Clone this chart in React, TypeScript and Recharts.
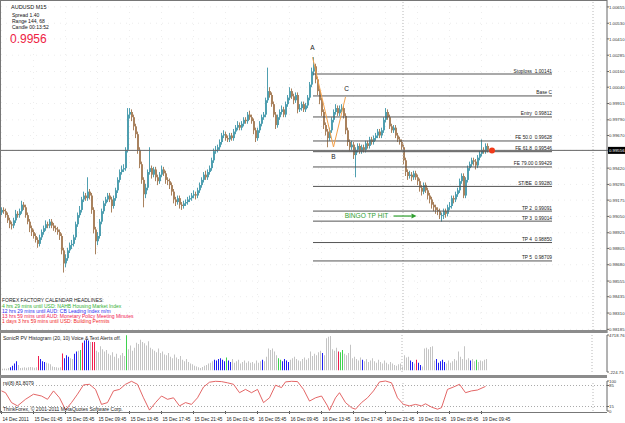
import React from "react";
import {
  ComposedChart,
  LineChart,
  Bar,
  Line,
  XAxis,
  YAxis,
  ReferenceLine,
  ReferenceDot,
  CartesianGrid,
  Cell,
} from "recharts";

// ---- data ----
const timeLabels = [
  "14 Dec 2011", "15 Dec 01:45", "15 Dec 05:45", "15 Dec 09:45", "15 Dec 13:45",
  "15 Dec 17:45", "15 Dec 21:45", "16 Dec 01:45", "16 Dec 05:45", "16 Dec 09:45",
  "16 Dec 13:45", "16 Dec 17:45", "16 Dec 21:45", "19 Dec 01:45", "19 Dec 05:45",
  "19 Dec 09:45",
];
const timeTickBars = [0, 16, 32, 48, 64, 80, 96, 112, 128, 144, 160, 176, 192, 208, 224, 240];

const priceTicks = [
  1.00655, 1.0053, 1.0041, 1.00285, 1.0016, 1.0004, 0.99915, 0.9979, 0.9967,
  0.9942, 0.99295, 0.99175, 0.9905, 0.98925, 0.98805, 0.9868, 0.98555, 0.98435,
  0.9831, 0.98185,
];
const bid = 0.99556;

const firstOpen = 0.9908;
const closes = [
  .9910, .9909, .9906, .9902, .9899, .9898, .9902, .9907, .9906, .9909,
  .9914, .9912, .9906, .9901, .9896, .9893, .9890, .9887, .9884, .9889,
  .9893, .9896, .9899, .9898, .9901, .9898, .9896, .9895, .9893, .9890,
  .9879, .9869, .9873, .9879, .9883, .9884, .9889, .9899, .9906, .9910,
  .9918, .9921, .9919, .9924, .9921, .9910, .9895, .9886, .9890, .9901,
  .9909, .9915, .9918, .9921, .9918, .9913, .9919, .9925, .9933, .9939,
  .9941, .9942, .9956, .9983, .9985, .9981, .9974, .9968, .9956, .9945,
  .9933, .9922, .9927, .9939, .9942, .9937, .9941, .9935, .9932, .9937,
  .9941, .9938, .9933, .9932, .9929, .9924, .9918, .9916, .9919, .9914,
  .9913, .9915, .9916, .9918, .9919, .9921, .9922, .9921, .9925, .9929,
  .9933, .9937, .9935, .9939, .9942, .9948, .9955, .9956, .9958, .9962,
  .9967, .9968, .9965, .9964, .9967, .9965, .9970, .9973, .9975, .9973,
  .9976, .9979, .9978, .9983, .9981, .9978, .9971, .9965, .9971, .9976,
  .9981, .9983, .9994, 1.0001, .9998, .9991, .9983, .9975, .9981, .9985,
  .9987, .9983, .9991, .9996, 1.0001, .9997, .9994, .9998, .9987, .9988,
  .9991, .9987, .9990, .9996, 1.0006, 1.0016, 1.0020, 1.0010, 1.0001, .9994,
  .9985, .9975, .9970, .9965, .9971, .9979, .9985, .9988, .9984, .9987,
  .9988, .9982, .9971, .9962, .9958, .9960, .9952, .9956, .9959, .9955,
  .9958, .9956, .9961, .9959, .9964, .9962, .9965, .9967, .9970, .9967,
  .9971, .9979, .9985, .9981, .9974, .9971, .9973, .9967, .9964, .9962,
  .9958, .9948, .9939, .9936, .9937, .9935, .9938, .9935, .9932, .9927,
  .9924, .9929, .9925, .9921, .9918, .9914, .9912, .9910, .9909, .9906,
  .9906, .9909, .9907, .9912, .9913, .9919, .9918, .9922, .9925, .9932,
  .9936, .9921, .9933, .9942, .9945, .9948, .9947, .9944, .9950, .9953,
  .9956, .9955, .9959, .9956,
];
const highs = [
  .9912, .9912, .9911, .9908, .9904, .9901, .9904, .9910, .9909, .9911,
  .9917, .9916, .9914, .9908, .9903, .9898, .9895, .9892, .9889, .9891,
  .9895, .9898, .9902, .9901, .9903, .9903, .9900, .9898, .9897, .9895,
  .9892, .9881, .9876, .9881, .9885, .9887, .9891, .9901, .9908, .9913,
  .9920, .9924, .9923, .9935, .9926, .9923, .9912, .9897, .9893, .9903,
  .9911, .9917, .9920, .9923, .9923, .9920, .9921, .9927, .9935, .9941,
  .9944, .9945, .9958, .9988, .9988, .9987, .9983, .9976, .9970, .9958,
  .9947, .9935, .9930, .9941, .9958, .9944, .9943, .9943, .9937, .9939,
  .9944, .9943, .9940, .9935, .9934, .9931, .9926, .9920, .9921, .9921,
  .9916, .9917, .9918, .9920, .9921, .9923, .9925, .9924, .9927, .9931,
  .9935, .9939, .9940, .9941, .9944, .9950, .9957, .9959, .9960, .9964,
  .9969, .9971, .9970, .9967, .9969, .9969, .9972, .9975, .9978, .9977,
  .9978, .9981, .9981, .9985, .9986, .9983, .9980, .9973, .9973, .9978,
  .9983, .9985, .9996, 1.0019, 1.0004, 1.0000, .9993, .9985, .9983, .9987,
  .9990, .9989, .9993, .9998, 1.0004, 1.0003, .9999, 1.0000, 1.0000, .9991,
  .9993, .9993, .9992, .9998, 1.0008, 1.0019, 1.0027, 1.0022, 1.0012, 1.0003,
  .9996, .9987, .9977, .9972, .9973, .9981, .9987, .9991, .9990, .9990,
  .9991, .9990, .9984, .9973, .9964, .9963, .9962, .9958, .9961, .9961,
  .9960, .9960, .9963, .9963, .9966, .9966, .9967, .9969, .9972, .9972,
  .9973, .9981, .9988, .9987, .9983, .9976, .9975, .9975, .9969, .9966,
  .9964, .9960, .9950, .9941, .9940, .9939, .9940, .9940, .9937, .9934,
  .9929, .9931, .9931, .9927, .9923, .9920, .9916, .9914, .9912, .9911,
  .9908, .9911, .9911, .9914, .9916, .9921, .9921, .9924, .9927, .9934,
  .9938, .9938, .9935, .9944, .9947, .9950, .9950, .9949, .9952, .9955,
  .9964, .9958, .9961, .9961,
];
const lows = [
  .9906, .9907, .9904, .9900, .9896, .9895, .9896, .9900, .9904, .9904,
  .9907, .9910, .9904, .9899, .9893, .9890, .9888, .9885, .9881, .9882,
  .9887, .9891, .9894, .9896, .9896, .9896, .9894, .9893, .9891, .9887,
  .9876, .9862, .9866, .9871, .9877, .9880, .9882, .9887, .9897, .9904,
  .9908, .9916, .9917, .9917, .9918, .9907, .9892, .9876, .9883, .9888,
  .9899, .9907, .9913, .9916, .9916, .9908, .9911, .9917, .9923, .9931,
  .9937, .9939, .9940, .9954, .9980, .9978, .9971, .9965, .9953, .9942,
  .9930, .9912, .9919, .9925, .9937, .9934, .9935, .9932, .9929, .9930,
  .9935, .9936, .9930, .9929, .9926, .9921, .9915, .9913, .9914, .9911,
  .9910, .9911, .9913, .9914, .9916, .9917, .9919, .9918, .9919, .9923,
  .9927, .9931, .9933, .9933, .9937, .9940, .9946, .9953, .9954, .9956,
  .9960, .9965, .9963, .9962, .9962, .9963, .9963, .9968, .9971, .9971,
  .9971, .9974, .9976, .9976, .9979, .9976, .9968, .9962, .9963, .9969,
  .9974, .9979, .9981, .9992, .9996, .9989, .9981, .9972, .9973, .9979,
  .9983, .9981, .9981, .9989, .9994, .9995, .9991, .9992, .9984, .9985,
  .9986, .9985, .9985, .9988, .9994, 1.0004, 1.0013, 1.0007, .9998, .9991,
  .9982, .9972, .9967, .9958, .9963, .9969, .9977, .9983, .9982, .9982,
  .9985, .9980, .9968, .9959, .9955, .9956, .9949, .9935, .9954, .9953,
  .9953, .9954, .9954, .9957, .9957, .9960, .9960, .9963, .9965, .9965,
  .9965, .9969, .9977, .9979, .9972, .9969, .9969, .9965, .9962, .9960,
  .9956, .9945, .9936, .9933, .9934, .9932, .9933, .9933, .9929, .9924,
  .9921, .9922, .9923, .9918, .9915, .9911, .9909, .9907, .9906, .9903,
  .9901, .9903, .9904, .9905, .9910, .9911, .9915, .9916, .9920, .9923,
  .9930, .9919, .9919, .9931, .9940, .9943, .9944, .9941, .9942, .9948,
  .9951, .9953, .9953, .9954,
];

// horizontal trade levels (label, price)
const levelNames = ["Stoploss  1.00141", "Base C", "Entry  0.99812", "FE 50.0  0.99628", "FE 61.8  0.99546",
  "FE 79.00 0.99429", "ST/BE  0.99280", "TP 2  0.99091", "TP 3  0.99014", "TP 4  0.98850", "TP 5  0.98709"];
const levelPrices = [1.00141, 0.99973, 0.99812, 0.99628, 0.99546, 0.99429, 0.9928, 0.99091, 0.99014, 0.9885, 0.98709];
const levelFrom = 155.75;
const levelTo = 275.25;

// A-B-C swing points (bar, price)
const swingBars = [155.5, 166, 172];
const swingPrices = [1.0027, 0.99582, 0.99965];
const swingNames = ["A", "B", "C"];
const swingLabelPrices = [1.0034, 0.99505, 1.0003];

// SonicR PV histogram
const histValues = [
  150, 200, 250, 200, 300, 400, 600, 900, 1200, 700, 300, 350, 400, 350, 400, 450, 400, 350, 400, 1900,
  1500, 1200, 1100, 1000, 900, 800, 500, 450, 400, 350, 400, 2250, 1600, 2000, 1800, 1600, 1500, 2200, 2500, 2600,
  2700, 3700, 4000, 4100, 4000, 3800, 3800, 3800, 2600, 2400, 3200, 2800, 2500, 2700, 2200, 2000, 2400, 1800, 2200, 1600,
  2000, 2300, 1900, 4700, 2800, 3300, 2600, 3000, 3700, 3500, 4100, 3800, 3600, 3300, 3900, 3000, 2800, 2600, 2400, 2900,
  2300, 2500, 2100, 2000, 2300, 1800, 1600, 2100, 1700, 1500, 1900, 1400, 1200, 1500, 1100, 900, 800, 600, 500, 400,
  300, 450, 600, 700, 900, 1000, 1200, 1400, 1300, 1500, 1600, 1400, 1200, 1700, 1300, 1100, 1500, 1000, 1200, 1400,
  900, 1100, 1300, 1000, 1200, 1000, 1100, 900, 1300, 1000, 1200, 1400, 1200, 1800, 2900, 2700, 2900, 2500, 2000, 1600,
  1400, 1200, 1500, 1300, 1100, 1400, 1600, 1800, 1500, 1300, 1200, 1500, 1700, 1400, 1600, 2500, 1900, 2200, 2000, 2400,
  2600, 2300, 2000, 4300, 4500, 4600, 2800, 2600, 3000, 2500, 2400, 2700, 2200, 2000, 2300, 3400, 1600, 1800, 1500, 1300,
  1700, 1400, 1200, 1500, 1100, 1300, 1600, 1200, 1000, 1400, 1100, 900, 1300, 1000, 800, 1100, 900, 700, 600, 800,
  900, 500, 2000, 1700, 1800, 1300, 1100, 900, 1400, 1000, 700, 500, 2900, 3000, 2800, 3100, 3200, 1300, 1500, 1000,
  1200, 1400, 1100, 900, 1300, 1000, 1200, 1500, 1300, 2500, 1800, 1500, 3200, 1400, 1600, 1300, 1500, 1200, 1400, 1100,
  1300, 1200, 1400, 1500,
];
// g = gray, b = blue, r = red, l = green
const histKinds =
  "gggggbbbbg" + "gggggggggr" + "bbbggggggg" + "grbbbggbbg" +
  "lrbbbgrrgg" + "gggggggggg" + "gggl" + "gggggggggggg" + "gggggggggggg" +
  "gggggggggggggggggg" + "gbbbbbblbb" + "ggggggggggggggg" + "bggggggg" + "llbbbb" +
  "gggggggggggggggg" + "bgggggggrll" + "gggggggggb" + "gggggggggggggggggggggg" +
  "gbbgrbb" + "ggggggg" + "bbbbb" + "gggggggggggg" + "bggl" + "ggggggggggg";

// rsi(8): bar index and value
const rsiBars = [0, 2, 5, 8, 12, 16, 20, 23, 26, 29, 32, 35, 38, 41, 44, 47, 50, 53, 56, 59, 62, 65, 68, 71, 74, 77, 80,
  83, 86, 89, 92, 95, 98, 101, 104, 107, 110, 113, 116, 119, 122, 125, 128, 131, 134, 137, 140, 142, 145, 148, 151, 154,
  157, 160, 163, 164, 167, 169, 172, 175, 177, 180, 183, 186, 189, 192, 195, 198, 201, 204, 207, 210, 212, 215, 218, 220,
  223, 226, 229, 232, 235, 238, 242];
const rsiValues = [67, 61, 28, 17, 39, 56, 50, 39, 67, 44, 4, 28, 56, 87, 89, 72, 22, 28, 67, 72, 89, 99, 89, 44, 3, 28,
  50, 39, 44, 17, 28, 22, 44, 80, 96, 99, 98, 94, 89, 61, 72, 61, 72, 28, 44, 86, 78, 97, 99, 98, 72, 33, 44, 50, 17, 2,
  44, 61, 28, 11, 6, 28, 44, 67, 97, 100, 94, 44, 22, 17, 22, 17, 24, 13, 6, 11, 72, 80, 89, 61, 67, 70, 82];

// ---- chart plumbing ----
const FONT = "'Liberation Sans', Arial, sans-serif";
const BULL = "#4f9fb0";
const BEAR = "#a9825e";
const X_DOMAIN: [number, number] = [-0.75, 302.75];
// histogram bars are 1px wide; shift its x range by a quarter bar so they land on whole pixels
const HIST_X_DOMAIN: [number, number] = [-0.5, 303];
const KIND_COLOR: Record<string, string> = { g: "#c4c4c4", b: "#1c1cf2", r: "#f01e4e", l: "#3ed24e" };

const candles = closes.map((c, i) => ({
  i,
  open: i === 0 ? firstOpen : closes[i - 1],
  close: c,
  high: highs[i],
  low: lows[i],
}));

const hist = histValues.map((v, i) => ({ i, v }));
const histFills = hist.map((_, i) => KIND_COLOR[histKinds.charAt(i)] || KIND_COLOR.g);

const rsi = rsiBars.map((b, n) => ({ i: b, v: rsiValues[n] }));

const Candle = (props: any) => {
  const { x, y, width, height, payload } = props;
  if (!payload || height == null) return null;
  const { open, close, high, low } = payload;
  const span = high - low || 1e-9;
  const py = (v: number) => y + ((high - v) / span) * height;
  const cx = Math.floor(x + width / 2);
  const col = close >= open ? BULL : BEAR;
  const t = py(Math.max(open, close));
  const b = py(Math.min(open, close));
  return (
    <g>
      <rect x={cx} y={y} width={1} height={Math.max(1, height)} fill={col} />
      <rect x={cx} y={t} width={2} height={Math.max(1, b - t)} fill={col} />
    </g>
  );
};

const PriceTick = (p: any) => {
  const v = p.payload.value;
  const cur = v === bid;
  return (
    <g>
      {cur && <rect x={p.x - 1} y={p.y - 3.5} width={20} height={7} fill="#000" />}
      <text x={p.x} y={p.y + 1.6} fontSize={4.3} fontFamily={FONT} fill={cur ? "#fff" : "#333"}>
        {v.toFixed(5)}
      </text>
    </g>
  );
};

const PlainTick = (p: any) => (
  <text x={p.x} y={p.y + 1.6} fontSize={4.3} fontFamily={FONT} fill="#333">
    {String(p.payload.value)}
  </text>
);

const DateTick = (p: any) => {
  const idx = timeTickBars.indexOf(p.payload.value);
  return (
    <g>
      <line x1={p.x} x2={p.x} y1={p.y - 2} y2={p.y + 1} stroke="#555" />
      <text x={p.x + 1} y={p.y + 8} fontSize={4.7} fontFamily={FONT} fill="#222">
        {timeLabels[idx]}
      </text>
    </g>
  );
};

const textAt = (txt: string, opts: any) => (p: any) => (
  <text
    x={p.cx + (opts.dx || 0)}
    y={p.cy + (opts.dy || 0)}
    textAnchor={opts.anchor || "middle"}
    fontSize={opts.size || 5}
    fontFamily={FONT}
    fill={opts.fill || "#222"}
    style={{ whiteSpace: "pre" }}
  >
    {txt}
  </text>
);

const ArrowHead = (p: any) => (
  <path d={`M${p.cx},${p.cy - 2.5} L${p.cx + 5},${p.cy} L${p.cx},${p.cy + 2.5} Z`} fill="#2f9e2f" />
);

const gridX = timeTickBars.map((b) => 2 * b + 1.5);

export default function App() {
  return (
    <div style={{ position: "fixed", left: 0, top: 0, width: 625, height: 423, background: "#fff", overflow: "hidden" }}>
      {/* main price panel */}
      <div style={{ position: "absolute", left: 0, top: 0 }}>
        <ComposedChart width={625} height={333} data={candles} margin={{ top: 0, right: 0, bottom: 0, left: 0 }}>
          <CartesianGrid stroke="#ededed" strokeDasharray="1 5" verticalPoints={gridX} />
          <XAxis type="number" dataKey="i" domain={X_DOMAIN} hide allowDataOverflow />
          <YAxis
            orientation="right"
            width={18}
            domain={[0.98157, 1.00708]}
            ticks={[...priceTicks, bid]}
            interval={0}
            allowDataOverflow
            axisLine={{ stroke: "#666" }}
            tickLine={{ stroke: "#666" }}
            tickSize={2}
            tickMargin={0}
            tick={(p: any) => <PriceTick {...p} />}
          />
          <ReferenceLine x={200.75} stroke="#b8b8b8" strokeDasharray="1 2" />
          <ReferenceLine x={295.75} stroke="#b8b8b8" strokeDasharray="1 2" />
          <ReferenceLine y={bid} stroke="#666" />
          {levelPrices.map((v, k) => (
            <ReferenceLine
              key={"lv" + k}
              segment={[{ x: levelFrom, y: v }, { x: levelTo, y: v }]}
              stroke="#555"
            />
          ))}
          {levelPrices.map((v, k) => (
            <ReferenceDot
              key={"lt" + k}
              x={levelTo}
              y={v}
              r={0}
              shape={textAt(levelNames[k], { anchor: "end", dy: -1.5, size: 4.8 })}
            />
          ))}
          <Bar dataKey={(d: any) => [d.low, d.high]} barSize={2} shape={Candle} isAnimationActive={false} />
          {swingBars.slice(1).map((b, k) => (
            <ReferenceLine
              key={"sw" + k}
              segment={[{ x: swingBars[k], y: swingPrices[k] }, { x: b, y: swingPrices[k + 1] }]}
              stroke="#f2a04a"
            />
          ))}
          {swingNames.map((n, k) => (
            <ReferenceDot
              key={"sn" + k}
              x={swingBars[k] + (k === 2 ? 0.5 : 0)}
              y={swingLabelPrices[k]}
              r={0}
              shape={textAt(n, { size: 6.5, dy: 2.3 })}
            />
          ))}
          <ReferenceDot x={182.5} y={0.99053} r={0} shape={textAt("BINGO TP HIT", { size: 6.6, dy: 2.4, fill: "#2f9e2f" })} />
          <ReferenceLine segment={[{ x: 196, y: 0.99053 }, { x: 205, y: 0.99053 }]} stroke="#2f9e2f" strokeWidth={1.2} />
          <ReferenceDot x={205} y={0.99053} r={0} shape={ArrowHead} />
          <ReferenceDot x={245.25} y={bid} r={3} fill="#f03a1a" stroke="none" />
        </ComposedChart>
      </div>

      {/* histogram panel */}
      <div style={{ position: "absolute", left: 0, top: 333 }}>
        <ComposedChart width={625} height={42} data={hist} margin={{ top: 2, right: 0, bottom: 3, left: 0 }}>
          <XAxis type="number" dataKey="i" domain={HIST_X_DOMAIN} hide allowDataOverflow />
          <YAxis
            orientation="right"
            width={18}
            domain={[-224.75, 4718.76]}
            ticks={[4718.76, -224.75]}
            interval={0}
            allowDataOverflow
            axisLine={{ stroke: "#666" }}
            tickLine={{ stroke: "#666" }}
            tickSize={2}
            tickMargin={0}
            tick={(p: any) => <PlainTick {...p} />}
          />
          <ReferenceLine x={200.5} stroke="#b8b8b8" strokeDasharray="1 2" />
          <ReferenceLine x={295.5} stroke="#b8b8b8" strokeDasharray="1 2" />
          <Bar dataKey="v" barSize={1} fill="#c4c4c4" isAnimationActive={false}>
            {hist.map((h) => (
              <Cell key={h.i} fill={histFills[h.i]} />
            ))}
          </Bar>
        </ComposedChart>
      </div>

      {/* rsi panel + time axis */}
      <div style={{ position: "absolute", left: 0, top: 378 }}>
        <LineChart width={625} height={45} data={rsi} margin={{ top: 3, right: 0, bottom: 0, left: 0 }}>
          <XAxis
            type="number"
            dataKey="i"
            domain={X_DOMAIN}
            ticks={timeTickBars}
            interval={0}
            allowDataOverflow
            height={12}
            axisLine={false}
            tickLine={false}
            tickSize={0}
            tick={(p: any) => <DateTick {...p} />}
          />
          <YAxis
            orientation="right"
            width={18}
            domain={[0, 100]}
            ticks={[100, 85, 15, 0]}
            interval={0}
            axisLine={{ stroke: "#666" }}
            tickLine={{ stroke: "#666" }}
            tickSize={2}
            tickMargin={0}
            tick={(p: any) => <PlainTick {...p} />}
          />
          <ReferenceLine y={85} stroke="#aaa" strokeDasharray="1 2" />
          <ReferenceLine y={15} stroke="#aaa" strokeDasharray="1 2" />
          <ReferenceLine x={200.75} stroke="#b8b8b8" strokeDasharray="1 2" />
          <ReferenceLine x={295.75} stroke="#b8b8b8" strokeDasharray="1 2" />
          <Line dataKey="v" stroke="#e05555" strokeWidth={0.9} dot={false} isAnimationActive={false} />
        </LineChart>
      </div>

      {/* frames and panel separators */}
      <div style={{ position: "absolute", left: 0, top: 0, width: 607, height: 413, borderLeft: "1px solid #777", borderTop: "1px solid #777", borderBottom: "1px solid #777", boxSizing: "border-box" }} />
      <div style={{ position: "absolute", left: 0, top: 330, width: 607, height: 3, background: "#8c8c8c" }} />
      <div style={{ position: "absolute", left: 0, top: 375, width: 607, height: 3, background: "#8c8c8c" }} />

      {/* text overlays */}
      <svg width={625} height={423} style={{ position: "absolute", left: 0, top: 0, pointerEvents: "none" }} fontFamily={FONT}>
        <g style={{ whiteSpace: "pre" }} fill="#111">
          <text x={11} y={8.5} fontSize={5.5}>AUDUSD   M15</text>
          <text x={12} y={16.5} fontSize={5}>Spread  1.40</text>
          <text x={12} y={22.5} fontSize={5}>Range   144, 68</text>
          <text x={12} y={28.5} fontSize={5}>Candle  00:13:52</text>
        </g>
        <text x={10} y={42.5} fontSize={12} fill="#ee2244">0.9956</text>
        <g fontSize={5} style={{ whiteSpace: "pre" }}>
          <text x={2} y={302} fill="#222">FOREX FACTORY CALENDAR HEADLINES:</text>
          <text x={2} y={307.5} fill="#33b033">4 hrs 29 mins until USD: NAHB Housing Market Index</text>
          <text x={2} y={312.5} fill="#3030f0">12 hrs 29 mins until AUD: CB Leading Index m/m</text>
          <text x={2} y={317.5} fill="#f02050">13 hrs 59 mins until AUD: Monetary Policy Meeting Minutes</text>
          <text x={2} y={322.5} fill="#f02828">1 days 3 hrs 59 mins until USD: Building Permits</text>
          <text x={3} y={340} fill="#222">SonicR PV Histogram (20, 10)  Voice &amp; Text Alerts off.</text>
          <text x={3} y={385} fill="#222">rsi(8) 81.8079</text>
          <text x={3} y={411} fill="#222">ThinkForex, © 2001-2011 MetaQuotes Software Corp.</text>
        </g>
      </svg>
    </div>
  );
}
